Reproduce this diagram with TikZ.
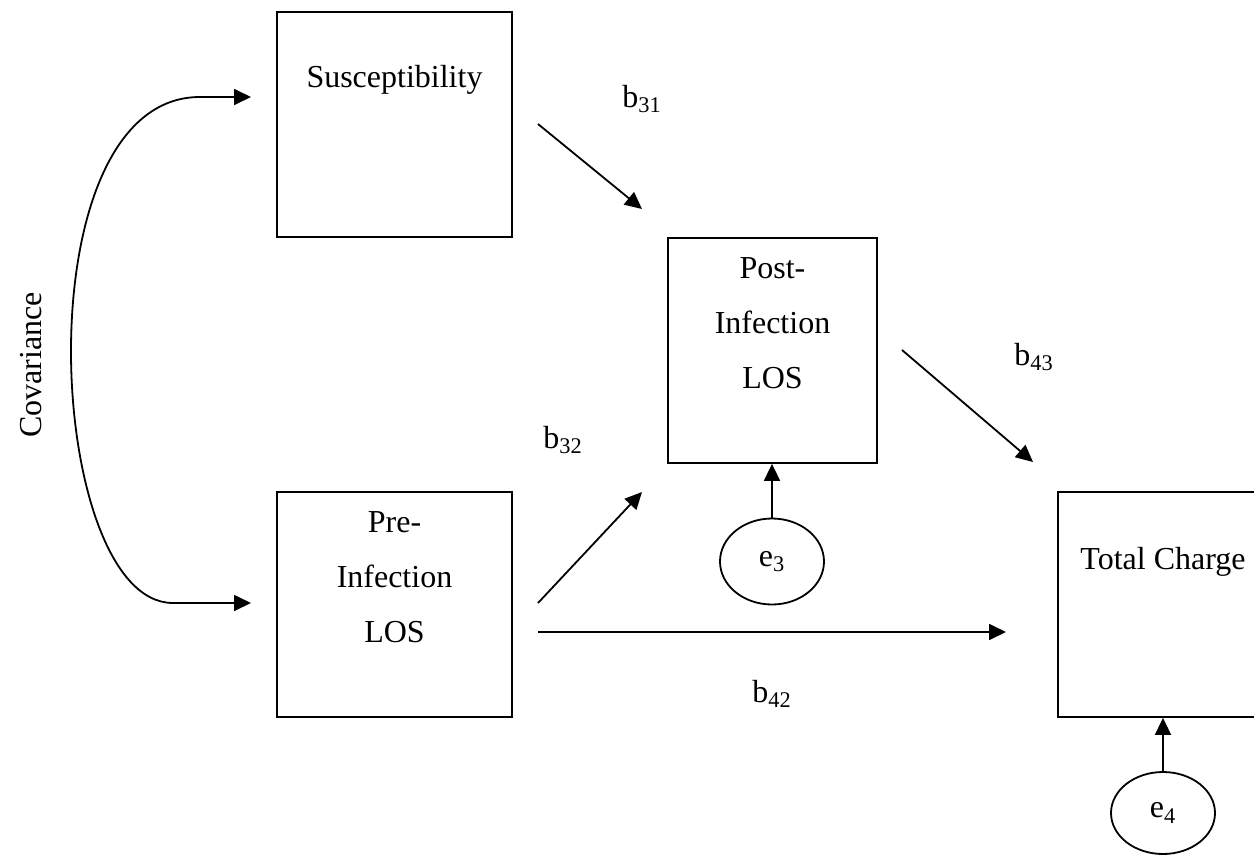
\documentclass[tikz,border=0pt]{standalone}
\usepackage{fontspec}
\setmainfont{Liberation Serif}
\usetikzlibrary{arrows.meta,shapes.geometric}
\begin{document}
\begin{tikzpicture}[x=0.5pt,y=-0.5pt,
  >={Triangle[length=8.5pt,width=8pt]},
  conn/.style={line width=0.9pt,->},
  box/.style={draw,line width=0.9pt,rectangle,inner sep=0pt},
  err/.style={draw,line width=0.9pt,ellipse,inner sep=0pt,minimum width=52pt,minimum height=43pt,font=\fontsize{16}{19}\selectfont},
  txt/.style={font=\fontsize{16}{19}\selectfont,inner sep=0pt,align=center},
  stack/.style={font=\fontsize{16}{27.5}\selectfont,inner sep=0pt,align=center}]
\useasboundingbox (0,0) rectangle (1254,857);
\clip (0,0) rectangle (1254,857);
% boxes
\node[box,minimum width=117.5pt,minimum height=112.5pt] (sus) at (394.5,124.5) {};
\node[box,minimum width=104.5pt,minimum height=112.5pt] (post) at (772.5,350.5) {};
\node[box,minimum width=117.5pt,minimum height=112.5pt] (pre) at (394.5,604.5) {};
\node[box,minimum width=105pt,minimum height=112.5pt] (tot) at (1163,604.5) {};
% box texts
\node[txt] (sust) at (394.5,80) {Susceptibility};
\node[stack] (postt) at (772.5,323) {Post-\\Infection\\LOS};
\node[stack] (pret) at (394.5,577) {Pre-\\Infection\\LOS};
\node[txt] (tott) at (1163,562) {Total Charge};
% error terms
\node[err] (e3) at (772,561.5) {e\textsubscript{3}};
\node[err,minimum height=41pt] (e4) at (1163,813) {e\textsubscript{4}};
% labels
\node[txt] (l31) at (642,99) {b\textsubscript{31}};
\node[txt] (l32) at (563,440) {b\textsubscript{32}};
\node[txt] (l43) at (1034,357) {b\textsubscript{43}};
\node[txt] (l42) at (772,694) {b\textsubscript{42}};
\node[txt,rotate=90] (cov) at (31,365) {Covariance};
% connector end points
\coordinate (a31) at (538,124); \coordinate (z31) at (642,209);
\coordinate (a32) at (538,603); \coordinate (z32) at (642,492);
\coordinate (a43) at (902,350); \coordinate (z43) at (1033,462);
\coordinate (a42) at (538,632); \coordinate (z42) at (1006,632);
\coordinate (c1) at (251,97); \coordinate (c2) at (251,603);
% connectors
\draw[conn] (a31) -- (z31);
\draw[conn] (a32) -- (z32);
\draw[conn] (a43) -- (z43);
\draw[conn] (a42) -- (z42);
\draw[conn] (e3.north) -- (e3.north |- post.south);
\draw[conn] (e4.north) -- (e4.north |- tot.south);
\draw[line width=0.9pt,<->] (c1) -- (200,97) .. controls (20,97) and (45,603) .. (173,603) -- (c2);
\end{tikzpicture}
\end{document}
